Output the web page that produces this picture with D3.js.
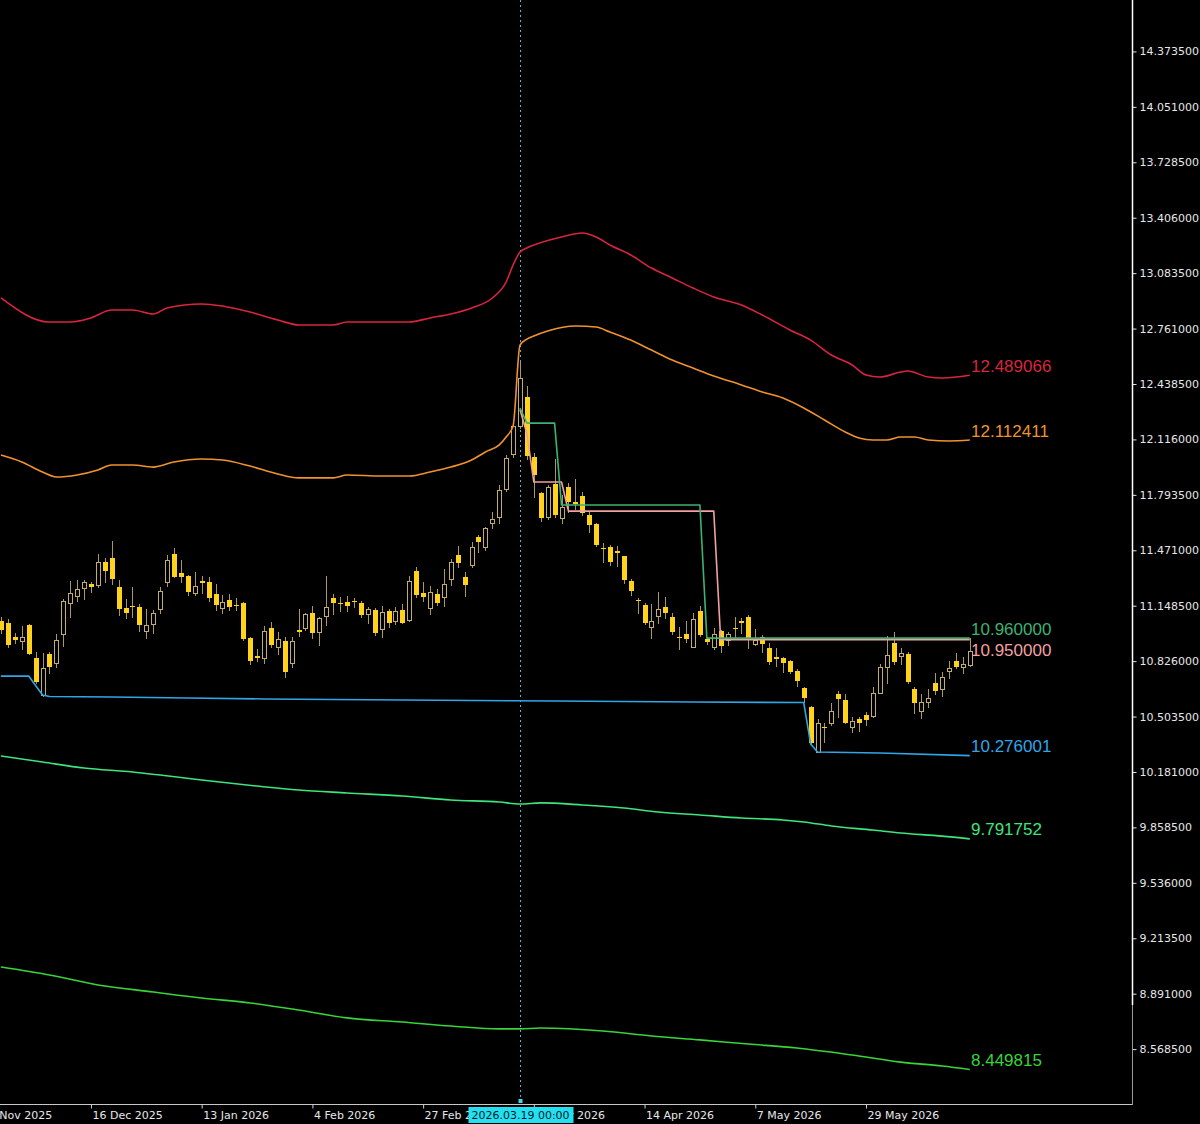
<!DOCTYPE html>
<html>
<head>
<meta charset="utf-8">
<script src="https://cdn.jsdelivr.net/npm/d3@7"></script>
<style>
html, body { margin: 0; padding: 0; background: #000; overflow: hidden; }
svg { display: block; }
</style>
</head>
<body>
<svg width="1200" height="1124"></svg>
<script>
// daily bars, index 0 .. 140 (bar 75 = 2026.03.19)
var opens = [
	11.059, 11.048, 10.966, 10.943, 11.036, 10.844, 10.629, 10.867, 10.815, 10.984,
	11.164, 11.205, 11.251, 11.275, 11.269, 11.403, 11.426, 11.257, 11.135, 11.147,
	11.141, 11.001, 11.042, 11.129, 11.286, 11.449, 11.339, 11.321, 11.222, 11.292,
	11.286, 11.217, 11.135, 11.182, 11.155, 11.164, 10.961, 10.853, 10.844, 11.019,
	10.908, 10.943, 10.815, 11.007, 11.019, 11.106, 10.995, 11.089, 11.193, 11.166,
	11.170, 11.178, 11.164, 11.100, 11.123, 11.013, 11.118, 11.059, 11.123, 11.065,
	11.350, 11.222, 11.135, 11.217, 11.199, 11.304, 11.443, 11.315, 11.385, 11.548,
	11.490, 11.630, 11.665, 11.828, 12.031, 12.194, 12.363, 12.014, 11.804, 11.665,
	11.857, 11.659, 11.839, 11.749, 11.787, 11.676, 11.624, 11.487, 11.490, 11.464,
	11.438, 11.292, 11.184, 11.153, 11.025, 11.089, 11.141, 11.083, 10.969, 10.984,
	10.908, 11.118, 10.955, 10.908, 11.001, 10.949, 11.021, 11.059, 11.083, 10.926,
	10.966, 10.902, 10.850, 10.844, 10.827, 10.769, 10.670, 10.559, 10.297, 10.445,
	10.466, 10.635, 10.600, 10.443, 10.489, 10.513, 10.507, 10.641, 10.792, 10.931,
	10.856, 10.867, 10.664, 10.536, 10.588, 10.699, 10.664, 10.769, 10.827, 10.792,
	10.803
];
var highs = [
	11.083, 11.071, 10.990, 11.030, 11.042, 10.879, 10.873, 10.879, 10.984, 11.187,
	11.292, 11.298, 11.298, 11.286, 11.449, 11.426, 11.525, 11.298, 11.187, 11.257,
	11.158, 11.129, 11.123, 11.257, 11.443, 11.484, 11.414, 11.327, 11.345, 11.321,
	11.315, 11.275, 11.211, 11.217, 11.193, 11.170, 10.966, 10.897, 11.030, 11.054,
	10.995, 10.966, 10.966, 11.129, 11.106, 11.147, 11.083, 11.321, 11.217, 11.199,
	11.205, 11.193, 11.176, 11.141, 11.135, 11.147, 11.129, 11.141, 11.158, 11.321,
	11.374, 11.286, 11.263, 11.246, 11.362, 11.420, 11.496, 11.345, 11.519, 11.560,
	11.606, 11.694, 11.851, 12.025, 12.229, 12.566, 12.427, 12.037, 11.810, 11.851,
	12.002, 11.793, 11.862, 11.886, 11.810, 11.694, 11.630, 11.513, 11.502, 11.496,
	11.438, 11.304, 11.193, 11.164, 11.158, 11.228, 11.199, 11.106, 11.025, 11.059,
	11.106, 11.147, 10.966, 11.019, 11.007, 10.995, 11.083, 11.077, 11.094, 11.013,
	10.978, 10.931, 10.902, 10.850, 10.833, 10.780, 10.675, 10.565, 10.489, 10.466,
	10.582, 10.652, 10.635, 10.501, 10.501, 10.530, 10.675, 10.809, 10.972, 10.995,
	10.902, 10.879, 10.675, 10.635, 10.664, 10.757, 10.763, 10.827, 10.873, 10.850,
	10.961
];
var lows = [
	10.990, 10.908, 10.931, 10.897, 10.867, 10.699, 10.623, 10.757, 10.792, 10.914,
	11.083, 11.176, 11.187, 11.228, 11.257, 11.286, 11.275, 11.094, 11.077, 11.083,
	11.001, 10.961, 10.990, 11.106, 11.263, 11.315, 11.286, 11.211, 11.211, 11.222,
	11.176, 11.123, 11.106, 11.123, 11.123, 10.949, 10.809, 10.827, 10.815, 10.908,
	10.867, 10.734, 10.792, 10.972, 11.007, 10.961, 10.920, 11.036, 11.100, 11.118,
	11.118, 11.141, 11.083, 11.048, 10.978, 10.966, 11.025, 11.042, 11.048, 11.059,
	11.199, 11.176, 11.100, 11.153, 11.147, 11.269, 11.374, 11.205, 11.374, 11.461,
	11.473, 11.601, 11.630, 11.816, 12.014, 12.182, 12.002, 11.781, 11.641, 11.653,
	11.665, 11.630, 11.694, 11.711, 11.676, 11.577, 11.496, 11.403, 11.385, 11.379,
	11.281, 11.211, 11.106, 11.042, 10.961, 11.048, 11.077, 10.984, 10.897, 10.937,
	10.908, 10.972, 10.926, 10.897, 10.879, 10.920, 10.966, 10.990, 10.902, 10.920,
	10.879, 10.809, 10.798, 10.763, 10.757, 10.681, 10.588, 10.344, 10.297, 10.355,
	10.454, 10.501, 10.466, 10.414, 10.419, 10.454, 10.501, 10.641, 10.699, 10.809,
	10.809, 10.699, 10.524, 10.495, 10.559, 10.635, 10.623, 10.728, 10.786, 10.757,
	10.798
];
var closes = [
	11.007, 10.920, 10.949, 10.966, 10.867, 10.705, 10.786, 10.792, 10.949, 11.176,
	11.222, 11.246, 11.286, 11.257, 11.403, 11.350, 11.304, 11.129, 11.106, 11.141,
	11.036, 11.036, 11.106, 11.234, 11.414, 11.315, 11.315, 11.228, 11.263, 11.281,
	11.193, 11.153, 11.170, 11.141, 11.150, 10.955, 10.827, 10.847, 11.001, 10.920,
	10.955, 10.763, 10.943, 10.995, 11.100, 10.990, 11.077, 11.141, 11.164, 11.162,
	11.147, 11.174, 11.094, 11.129, 10.990, 11.112, 11.048, 11.118, 11.048, 11.292,
	11.211, 11.199, 11.228, 11.164, 11.275, 11.403, 11.397, 11.269, 11.490, 11.519,
	11.601, 11.653, 11.822, 12.008, 12.194, 12.473, 12.019, 11.909, 11.659, 11.839,
	11.676, 11.723, 11.752, 11.743, 11.688, 11.618, 11.502, 11.481, 11.403, 11.458,
	11.298, 11.234, 11.179, 11.048, 11.059, 11.129, 11.106, 10.995, 10.964, 10.955,
	11.071, 10.978, 10.937, 10.984, 10.914, 10.984, 11.017, 11.048, 10.949, 10.949,
	10.926, 10.821, 10.838, 10.815, 10.763, 10.710, 10.611, 10.350, 10.466, 10.440,
	10.536, 10.606, 10.466, 10.478, 10.466, 10.483, 10.641, 10.792, 10.862, 10.821,
	10.873, 10.705, 10.582, 10.588, 10.611, 10.652, 10.734, 10.786, 10.792, 10.809,
	10.885
];

// indicator lines, [bar index, price]
var redBand = [[0,12.939],[7,12.799],[10,12.799],[13,12.823],[16,12.869],[19,12.869],[22,12.846],[24,12.881],
	[29,12.904],[32,12.892],[36,12.857],[40,12.811],[43,12.782],[48,12.782],[50,12.799],[55,12.799],[59,12.799],
	[62,12.823],[65,12.846],[68,12.881],[71,12.939],[73,13.032],[74,13.131],[75,13.206],[76,13.230],[77,13.247],
	[81,13.294],[84,13.317],[86,13.294],[88,13.247],[91,13.189],[94,13.113],[97,13.055],[100,12.997],[103,12.945],
	[107,12.898],[110,12.840],[114,12.753],[117,12.694],[120,12.607],[123,12.549],[125,12.491],[127,12.479],
	[130,12.508],[131,12.514],[134,12.479],[136,12.473],[140,12.489066]];
var orangeBand = [[0,12.025],[3,11.985],[6,11.926],[8,11.897],[11,11.909],[14,11.938],[16,11.967],[19,11.967],
	[22,11.955],[25,11.985],[29,12.002],[32,11.996],[36,11.961],[40,11.915],[43,11.892],[48,11.892],[50,11.909],
	[55,11.903],[59,11.903],[62,11.926],[65,11.955],[68,11.996],[70,12.043],[72,12.084],[73,12.130],[74,12.194],
	[75,12.665],[76,12.700],[77,12.718],[79,12.747],[83,12.776],[86,12.770],[88,12.741],[91,12.694],[94,12.636],
	[97,12.578],[100,12.531],[103,12.485],[107,12.433],[110,12.392],[113,12.357],[116,12.299],[119,12.229],
	[122,12.159],[124,12.124],[126,12.113],[128,12.113],[130,12.130],[132,12.130],[134,12.113],[137,12.107],
	[140,12.112411]];
var greenStep = [[75,12.299],[76,12.211],[80,12.211],[81,11.734],[101,11.734],[102,10.96],[140,10.96]];
var pinkStep = [[75,12.290],[76,12.150],[77,11.868],[81,11.868],[82,11.699],[103,11.699],[104,10.95],[140,10.95]];
var blueLine = [[0,10.739],[4,10.739],[5,10.684],[6,10.629],[7,10.620],[16,10.617],[27,10.611],[38,10.606],
	[58,10.600],[80,10.594],[100,10.588],[116,10.585],[117,10.344],[118,10.297],[127,10.291],[140,10.276001]];
var springLine = [[0,10.274],[6,10.239],[12,10.204],[19,10.181],[23,10.163],[29,10.134],[37,10.099],[43,10.076],
	[50,10.059],[58,10.041],[65,10.018],[72,10.006],[75,9.995],[78,10.001],[84,9.989],[90,9.971],[95,9.948],
	[101,9.931],[107,9.913],[113,9.902],[116,9.890],[120,9.867],[126,9.843],[130,9.826],[136,9.808],[140,9.791752]];
var limeLine = [[0,9.046],[7,9.000],[14,8.942],[22,8.901],[29,8.866],[36,8.837],[43,8.796],[50,8.750],[58,8.726],
	[65,8.703],[72,8.686],[75,8.686],[78,8.691],[87,8.674],[94,8.645],[101,8.622],[108,8.598],[115,8.575],
	[123,8.534],[130,8.493],[136,8.470],[140,8.449815]];

var priceTicks = [8.5685, 8.891, 9.2135, 9.536, 9.8585, 10.181, 10.5035, 10.826, 11.1485, 11.471,
	11.7935, 12.116, 12.4385, 12.761, 13.0835, 13.406, 13.7285, 14.051, 14.3735];
var dateTickBars = [-3, 13, 29, 45, 61, 77, 93, 109, 125];
var dateTickLabels = ["24 Nov 2025", "16 Dec 2025", "13 Jan 2026", "4 Feb 2026", "27 Feb 2026",
	"23 Mar 2026", "14 Apr 2026", "7 May 2026", "29 May 2026"];
var crossBar = 75;
var crossLabel = "2026.03.19 00:00";

var svg = d3.select("svg");
var plotW = 1132, plotH = 1104;

svg.append("rect").attr("width", 1200).attr("height", 1124).attr("fill", "#000");

var x = d3.scaleLinear().domain([0, 140]).range([1, 969.8]);
var y = d3.scaleLinear().domain([8.2491, 14.6728]).range([plotH, 0]);

svg.append("clipPath").attr("id", "plotClip")
	.append("rect").attr("width", plotW).attr("height", plotH);

var plot = svg.append("g").attr("clip-path", "url(#plotClip)");

// crosshair
plot.append("line")
	.attr("x1", Math.round(x(crossBar)) + 0.5).attr("x2", Math.round(x(crossBar)) + 0.5)
	.attr("y1", 0).attr("y2", plotH - 6)
	.attr("stroke", "#4fb3d6").attr("stroke-dasharray", "2,3");

// candles
var bars = d3.range(opens.length);
var candle = plot.append("g").selectAll("g").data(bars).enter().append("g");

candle.append("line")
	.attr("x1", d => Math.round(x(d)) + 0.5)
	.attr("x2", d => Math.round(x(d)) + 0.5)
	.attr("y1", d => Math.round(y(highs[d])))
	.attr("y2", d => Math.round(y(lows[d])) + 1)
	.attr("stroke", "#a99a5c");

candle.append("rect")
	.attr("x", d => closes[d] >= opens[d] ? Math.round(x(d)) - 1.5 : Math.round(x(d)) - 2)
	.attr("y", d => Math.round(y(Math.max(opens[d], closes[d]))) + (closes[d] >= opens[d] ? 0.5 : 0))
	.attr("width", d => closes[d] >= opens[d] ? 4 : 5)
	.attr("height", d => Math.max(1, Math.round(y(Math.min(opens[d], closes[d]))) - Math.round(y(Math.max(opens[d], closes[d])))))
	.attr("fill", d => closes[d] >= opens[d] ? "#000" : "#ffd21c")
	.attr("stroke", d => closes[d] >= opens[d] ? "#c2ad6a" : "none");

// indicator lines
var lineGen = d3.line().x(d => x(d[0])).y(d => y(d[1]));
var smoothGen = d3.line().x(d => x(d[0])).y(d => y(d[1])).curve(d3.curveMonotoneX);

var series = [
	{ data: redBand, color: "#d8253f", smooth: true },
	{ data: orangeBand, color: "#f0922e", smooth: true },
	{ data: springLine, color: "#3ee47e", smooth: true },
	{ data: limeLine, color: "#38d43a", smooth: true },
	{ data: blueLine, color: "#30a6e6", smooth: false },
	{ data: pinkStep, color: "#f2a0a0", smooth: false },
	{ data: greenStep, color: "#3cb371", smooth: false }
];

series.forEach(function (s) {
	plot.append("path")
		.attr("d", s.smooth ? smoothGen(s.data) : lineGen(s.data))
		.attr("fill", "none")
		.attr("stroke", s.color)
		.attr("stroke-width", 1.6)
		.attr("stroke-linejoin", "round");
});

// last-value labels
var labels = series.map(function (s) {
	var v = s.data[s.data.length - 1][1];
	return { text: d3.format(".6f")(v), color: s.color, base: y(v) - 3.5 };
}).sort((a, b) => a.base - b.base);

for (var k = 1; k < labels.length; k++) {
	if (labels[k].base - labels[k - 1].base < 19) labels[k].base = labels[k - 1].base + 21.5;
}

svg.append("g").selectAll("text").data(labels).enter().append("text")
	.attr("x", 971)
	.attr("y", d => d.base)
	.attr("fill", d => d.color)
	.style("font-family", "'Liberation Sans', Arial, sans-serif")
	.style("font-size", "17px")
	.text(d => d.text);

// price axis
var yAxis = d3.axisRight(y).tickValues(priceTicks).tickFormat(d3.format(".6f")).tickSize(4).tickPadding(3);
var yAxisGroup = svg.append("g").attr("transform", "translate(" + (plotW + 0.5) + ",0)").call(yAxis);
yAxisGroup.select(".domain").remove();
yAxisGroup.selectAll("line").attr("stroke", "#e0e0e0");
yAxisGroup.selectAll("text")
	.attr("fill", "#e6e6e6")
	.style("font-family", "'DejaVu Sans', sans-serif")
	.style("font-size", "11px");

// time axis
var xAxis = d3.axisBottom(x).tickValues(dateTickBars).tickFormat((d, i) => dateTickLabels[i]).tickSize(4).tickPadding(3);
var xAxisGroup = svg.append("g").attr("transform", "translate(0," + (plotH + 0.5) + ")").call(xAxis);
xAxisGroup.select(".domain").remove();
xAxisGroup.selectAll("line").attr("stroke", "#d0d0d0");
xAxisGroup.selectAll("text")
	.attr("fill", "#e6e6e6")
	.attr("text-anchor", "start")
	.attr("x", 1)
	.style("font-family", "'DejaVu Sans', sans-serif")
	.style("font-size", "11px");

// frame
svg.append("line").attr("x1", 0).attr("x2", plotW + 1).attr("y1", plotH + 0.5).attr("y2", plotH + 0.5).attr("stroke", "#c8c8c8");
svg.append("line").attr("x1", plotW + 0.5).attr("x2", plotW + 0.5).attr("y1", 0).attr("y2", 1005).attr("stroke", "#ffffff").attr("stroke-width", 1.5);
svg.append("line").attr("x1", plotW + 0.5).attr("x2", plotW + 0.5).attr("y1", 1005).attr("y2", plotH + 1).attr("stroke", "#9a9a9a");

// crosshair date tag
var cx = Math.round(x(crossBar)) + 0.5;
svg.append("rect").attr("x", cx - 2).attr("y", plotH - 5).attr("width", 4).attr("height", 4).attr("fill", "#3ad8ee");
svg.append("rect").attr("x", cx - 52).attr("y", plotH + 3).attr("width", 105).attr("height", 16).attr("fill", "#22e0f0");
svg.append("text")
	.attr("x", cx).attr("y", plotH + 15)
	.attr("text-anchor", "middle")
	.attr("fill", "#0b1a2e")
	.style("font-family", "'DejaVu Sans', sans-serif")
	.style("font-size", "11px")
	.text(crossLabel);
</script>
</body>
</html>
